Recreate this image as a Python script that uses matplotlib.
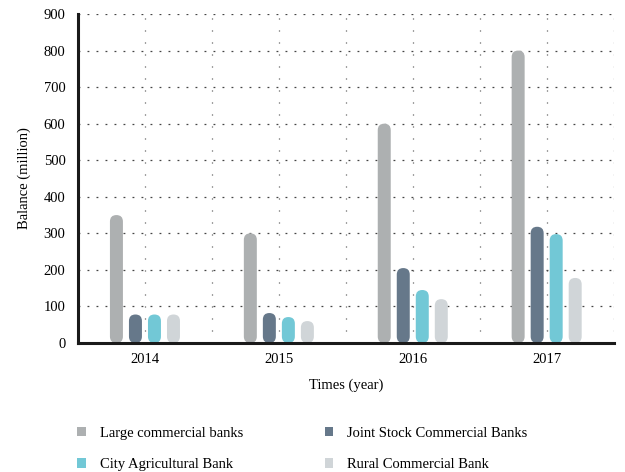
import numpy as np
import matplotlib
matplotlib.use("Agg")
from matplotlib import pyplot as plt
from matplotlib.patches import FancyBboxPatch, Patch

years = ["2014", "2015", "2016", "2017"]
large_commercial = [350, 300, 600, 800]
joint_stock = [78, 82, 205, 318]
city_agricultural = [78, 71, 145, 298]
rural_commercial = [78, 60, 120, 178]

series = [
    ("Large commercial banks", large_commercial, "#adb0b1"),
    ("Joint Stock Commercial Banks", joint_stock, "#66788a"),
    ("City Agricultural Bank", city_agricultural, "#72c8d6"),
    ("Rural Commercial Bank", rural_commercial, "#d0d5d8"),
]

plt.rcParams['font.family'] = ['Liberation Serif', 'DejaVu Serif']
FS = 10.5

fig = plt.figure(figsize=(6.25, 4.72), dpi=100)
ax = fig.add_axes([0.1248, 0.2733, 0.857, 0.697])

x = np.arange(len(years))
step = 0.142
width = 0.097
ax.set_xlim(-0.5, 3.5)
ax.set_ylim(0, 900)

# grid first so the bars sit on top of it
for yv in range(100, 1000, 100):
    ax.plot([-0.5, 3.5], [yv, yv], color="#444444", lw=0.9,
            ls=(0, (1.5, 5.7)), zorder=0)
for xv in np.arange(0, 3.75, 0.5):
    ax.plot([xv, xv], [0, 900], color="#444444", lw=0.9,
            ls=(0, (0.8, 8.8)), zorder=0)

# rounded bars: corner radius equal to half the bar width in screen space
fig.canvas.draw()
px_x = ax.transData.transform((1, 0))[0] - ax.transData.transform((0, 0))[0]
px_y = ax.transData.transform((0, 1))[1] - ax.transData.transform((0, 0))[1]
aspect = px_x / px_y
radius = width / 2

for i, (name, vals, color) in enumerate(series):
    offset = (i - 1.5) * step
    for xi, v in zip(x, vals):
        left = xi + offset - width / 2
        box = FancyBboxPatch((left, 0), width, v,
                             boxstyle=f"round,pad=0,rounding_size={radius}",
                             mutation_aspect=aspect,
                             fc=color, ec="none", zorder=2, clip_on=True)
        ax.add_patch(box)

for side in ["top", "right"]:
    ax.spines[side].set_visible(False)
for side in ["left", "bottom"]:
    ax.spines[side].set_linewidth(2.2)
    ax.spines[side].set_color("#1a1a1a")
    ax.spines[side].set_zorder(5)

ax.set_xticks(x)
ax.set_xticklabels(years)
ax.set_yticks(range(0, 1000, 100))
ax.tick_params(length=0, labelsize=FS, pad=7)
ax.tick_params(axis="y", pad=9)

ax.set_xlabel("Times (year)", fontsize=FS, labelpad=9)
ax.set_ylabel("Balance (million)", fontsize=FS, labelpad=9)

# legend is filled column by column, so order the handles for row-wise reading
handles = [Patch(fc=c, ec="none", label=n) for n, _, c in series]
handles = [handles[0], handles[2], handles[1], handles[3]]
fig.legend(handles=handles, loc="lower left", bbox_to_anchor=(0.102, -0.026),
           ncol=2, frameon=False, fontsize=FS, handlelength=0.6,
           handleheight=0.6, handletextpad=0.96, columnspacing=5.6,
           labelspacing=1.25)

fig.savefig("out.png", dpi=100, facecolor="white")
